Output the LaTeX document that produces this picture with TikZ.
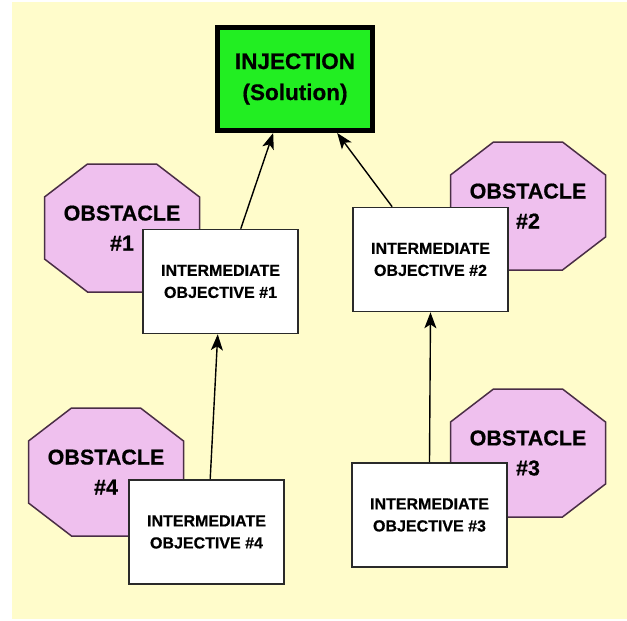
\documentclass[tikz,border=0pt]{standalone}
\usepackage{fontspec}
\setmainfont{Liberation Sans}[BoldFeatures={FakeBold=0.6}]
\usepackage{tikz}
\usetikzlibrary{arrows.meta}
\definecolor{pgyellow}{HTML}{FFFCCB}
\definecolor{pggreen}{HTML}{22EE22}
\definecolor{pgpink}{HTML}{EFC0EE}
\definecolor{pgplum}{HTML}{4A2E46}
\definecolor{pgdark}{HTML}{2A2A2A}
\tikzset{
  sol/.style  = {rectangle, draw=black, line width=5pt, fill=pggreen,
                 minimum width=155pt, minimum height=103pt, inner sep=0pt,
                 font=\fontsize{22.5}{31}\selectfont\bfseries, align=center},
  % stretched octagon drawn inside a plain box
  obs/.style  = {rectangle, minimum width=159pt, minimum height=132pt, inner sep=0pt,
                 font=\fontsize{21.5}{30}\selectfont\bfseries, align=center,
                 path picture={
                   \draw[pgplum, line width=1.5pt, fill=pgpink]
                     (path picture bounding box.center) ++(-34.5,-64)
                     -- ++(69,0) -- ++(43,33) -- ++(0,62) -- ++(-43,33)
                     -- ++(-69,0) -- ++(-43,-33) -- ++(0,-62) -- cycle;
                 }},
  obj/.style  = {rectangle, draw=pgdark, line width=1.6pt, fill=white,
                 minimum width=155pt, minimum height=104pt, inner sep=0pt,
                 font=\fontsize{16}{22}\selectfont\bfseries, align=center},
  up/.style   = {-{Stealth[length=16pt,width=12pt,inset=4pt]}, draw=black, line width=1.4pt},
}

\begin{document}
\begin{tikzpicture}[x=1pt,y=-1pt]
  \useasboundingbox (0,0) rectangle (627,621);
  \fill[pgyellow] (12,2) rectangle (627,619);
  % obstacles sit behind the objectives
  \node[obs] (ob1) at (122,228) {OBSTACLE\\\#1};
  \node[obs] (ob2) at (528,206) {OBSTACLE\\\#2};
  \node[obs] (ob3) at (528,453) {OBSTACLE\\\#3};
  \node[obs] (ob4) at (106,472) {OBSTACLE\\\#4};
  \node[obj] (io1) at (220.5,281.5) {INTERMEDIATE\\OBJECTIVE \#1};
  \node[obj] (io2) at (430.5,259.5) {INTERMEDIATE\\OBJECTIVE \#2};
  \node[obj] (io3) at (429.5,515) {INTERMEDIATE\\OBJECTIVE \#3};
  \node[obj] (io4) at (206.5,532) {INTERMEDIATE\\OBJECTIVE \#4};
  \node[sol] (inj) at (295,79) {INJECTION\\(Solution)};
  \draw[up] (io1.69) -- (inj.248);
  \draw[up] (io2.126) -- (inj.308);
  \draw[up] (io4.86) -- (io1.267);
  \draw[up] (io3.north) -- (io2.south);
\end{tikzpicture}
\end{document}
